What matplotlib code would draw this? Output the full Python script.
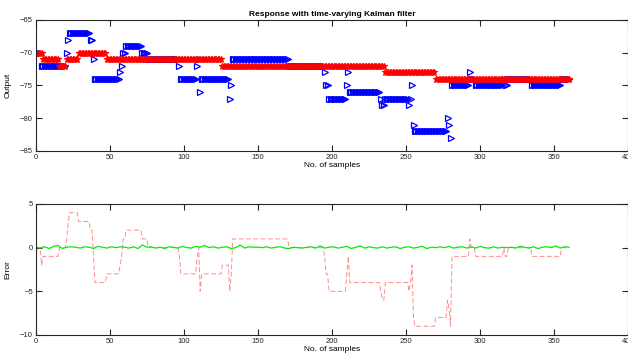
import matplotlib
matplotlib.use('Agg')
import matplotlib.pyplot as plt
import numpy as np

plt.rcParams['font.family'] = ['Liberation Sans', 'DejaVu Sans']

# true output y: run-length encoded (level, number of samples)
true_levels = [-70, -71, -72, -71, -70, -71, -72, -73, -74]
true_counts = [5, 11, 5, 8, 19, 78, 110, 34, 91]

# measured output yv: run-length encoded (level, number of samples)
meas_levels = [-70, -72, -70, -68, -67, -68, -71, -74, -73, -72, -70, -69, -70, -71,
               -72, -74, -72, -71, -76, -74, -77, -75, -71, -72, -73, -75, -77, -75,
               -73, -76, -77, -78, -77, -78, -77, -75, -81, -82, -80, -81, -83, -75,
               -73, -74, -75, -74, -75, -74, -75, -74]
meas_counts = [4, 17, 1, 1, 14, 2, 1, 17, 1, 1, 2, 11, 4, 21,
               1, 11, 1, 1, 1, 19, 1, 1, 38, 24, 1, 2, 12, 1,
               1, 21, 1, 2, 16, 1, 1, 1, 1, 22, 1, 1, 1, 12,
               1, 3, 19, 1, 2, 16, 20, 6]

# estimation error of the filter, read every 3 samples
est_err = [0.05, -0.05, 0.1, -0.1, 0.15, 0.25, -0.1, 0.05, 0.1, 0.05, -0.05, 0.1,
           0.05, -0.1, 0.15, 0.05, -0.05, 0.1, 0.0, 0.1, 0.05, -0.05, 0.1, -0.1,
           0.3, 0.05, 0.1, -0.05, 0.05, -0.1, 0.1, 0.05, -0.05, 0.15, 0.0, -0.05,
           0.15, 0.05, 0.25, 0.0, 0.1, -0.05, 0.05, 0.1, -0.1, 0.0, 0.3, -0.05,
           0.1, 0.05, 0.05, 0.0, 0.1, -0.05, 0.05, 0.1, -0.05, -0.1, 0.05, 0.0,
           -0.05, 0.05, 0.1, -0.05, 0.2, -0.05, 0.05, 0.1, -0.05, 0.05, 0.15, -0.1,
           0.05, 0.2, -0.05, 0.1, 0.0, -0.05, 0.1, -0.05, 0.05, 0.1, -0.1, 0.05,
           0.1, -0.05, 0.05, 0.15, -0.1, 0.05, 0.0, 0.1, 0.0, 0.15, -0.05, 0.05,
           0.1, -0.05, 0.1, -0.05, 0.15, 0.0, -0.05, 0.1, -0.05, 0.05, 0.0, 0.05,
           -0.05, 0.15, 0.05, -0.05, 0.1, -0.1, 0.05, 0.1, 0.0, 0.2, -0.05, 0.1,
           0.05]

y = np.repeat(true_levels, true_counts)
yv = np.repeat(meas_levels, meas_counts)
t = np.arange(len(y))
meas_err = yv - y
t_est = np.arange(len(est_err)) * 3

fig = plt.figure(figsize=(6.28, 3.59), dpi=100)
ax1 = fig.add_axes([0.0569, 0.5794, 0.9436, 0.3649])
ax2 = fig.add_axes([0.0569, 0.0669, 0.9436, 0.3649])

ax1.plot(t, yv, linestyle='none', marker='>', markersize=4.5, markerfacecolor='none',
         markeredgecolor='blue', markeredgewidth=0.9)
ax1.plot(t, y, linestyle='none', marker='*', markersize=5, color='red',
         markeredgewidth=0.8)
ax1.set_xlim(0, 400)
ax1.set_ylim(-85, -65)
ax1.set_yticks(np.arange(-85, -64, 5))
ax1.set_title('Response with time-varying Kalman filter', fontsize=6,
              fontweight='bold', pad=3)
ax1.set_ylabel('Output', fontsize=6, labelpad=6)
ax1.set_xlabel('No. of samples', fontsize=6, labelpad=1)

ax2.plot(t, meas_err, '--', color='#ff8c8c', linewidth=0.7, dashes=(5, 2.5))
ax2.plot(t_est, est_err, '-', color='#00ee00', linewidth=0.9)
ax2.set_xlim(0, 400)
ax2.set_ylim(-10, 5)
ax2.set_yticks([-10, -5, 0, 5])
ax2.set_ylabel('Error', fontsize=6, labelpad=6)
ax2.set_xlabel('No. of samples', fontsize=6, labelpad=1)

for ax in (ax1, ax2):
    ax.set_xticks(np.arange(0, 401, 50))
    ax.tick_params(direction='in', top=True, right=True, length=4, width=0.8,
                   labelsize=5.5, colors='#262626', pad=2)
    for s in ax.spines.values():
        s.set_linewidth(0.8)
        s.set_color('#262626')

fig.savefig('out.png', dpi=100)
